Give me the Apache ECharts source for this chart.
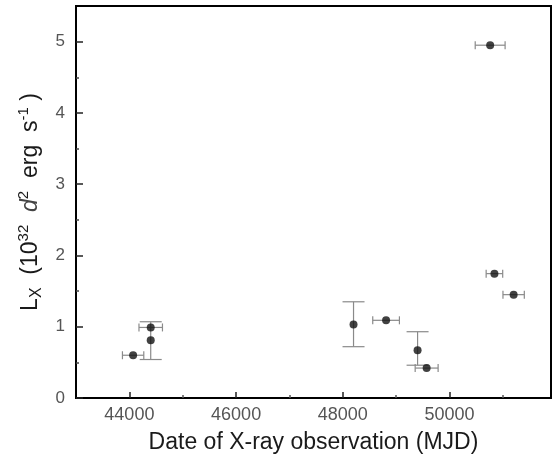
<!DOCTYPE html>
<html>
<head>
<meta charset="utf-8">
<script src="https://cdn.jsdelivr.net/npm/echarts@6/dist/echarts.min.js"></script>
<style>
  html, body { margin: 0; padding: 0; background: #fff; }
  #chart { width: 559px; height: 461px; }
</style>
</head>
<body>
<div id="chart"></div>
<script>
// observation dates (MJD) and luminosities
var mjd    = [44070, 44400, 44400, 48200, 48810, 49400, 49570, 50760, 50840, 51200];
var lx     = [0.60, 0.99, 0.81, 1.03, 1.09, 0.67, 0.42, 4.95, 1.745, 1.45];
// horizontal error (half width, days)
var mjdErr = [200, 220, 0, 0, 250, 0, 215, 280, 155, 200];
// vertical error bounds
var lxLow  = [0.60, 0.99, 0.54, 0.72, 1.09, 0.46, 0.42, 4.95, 1.745, 1.45];
var lxHigh = [0.60, 0.99, 1.07, 1.35, 1.09, 0.93, 0.42, 4.95, 1.745, 1.45];

// tick values
var xMajor = [44000, 46000, 48000, 50000];
var xMinor = [45000, 47000, 49000, 51000];
var yMajor = [0, 1, 2, 3, 4, 5];
var yMinor = [0.5, 1.5, 2.5, 3.5, 4.5];

var chart = echarts.init(document.getElementById('chart'));

var points = mjd.map(function (d, i) { return [d, lx[i]]; });
var bars = mjd.map(function (d, i) {
    return [d, lx[i], d - mjdErr[i], d + mjdErr[i], lxLow[i], lxHigh[i]];
});

var barStyle = { stroke: '#8a8a8a', lineWidth: 1.2 };

function renderErr(params, api) {
    var x = api.value(0), y = api.value(1);
    var c = api.coord([x, y]);
    var kids = [];
    var xl = api.value(2), xh = api.value(3);
    if (xh > xl) {
        var a = api.coord([xl, y]), b = api.coord([xh, y]);
        kids.push({ type: 'line', shape: { x1: a[0], y1: a[1], x2: b[0], y2: b[1] }, style: barStyle });
        kids.push({ type: 'line', shape: { x1: a[0], y1: a[1] - 4, x2: a[0], y2: a[1] + 4 }, style: barStyle });
        kids.push({ type: 'line', shape: { x1: b[0], y1: b[1] - 4, x2: b[0], y2: b[1] + 4 }, style: barStyle });
    }
    var yl = api.value(4), yh = api.value(5);
    if (yh > yl) {
        var lo = api.coord([x, yl]), hi = api.coord([x, yh]);
        kids.push({ type: 'line', shape: { x1: c[0], y1: lo[1], x2: c[0], y2: hi[1] }, style: barStyle });
        kids.push({ type: 'line', shape: { x1: c[0] - 11, y1: lo[1], x2: c[0] + 11, y2: lo[1] }, style: barStyle });
        kids.push({ type: 'line', shape: { x1: c[0] - 11, y1: hi[1], x2: c[0] + 11, y2: hi[1] }, style: barStyle });
    }
    return { type: 'group', children: kids };
}

var labelFont = 'Liberation Sans, Arial, sans-serif';

var option = {
    animation: false,
    backgroundColor: '#fff',
    grid: {
        left: 76, right: 8, top: 6, bottom: 63,
        show: true, borderColor: '#000', borderWidth: 2
    },
    xAxis: [{
        type: 'value',
        min: 43000, max: 51900,
        name: 'Date of X-ray observation (MJD)',
        nameLocation: 'middle',
        nameGap: 33,
        nameTextStyle: { fontSize: 23, color: '#1a1a1a', fontFamily: labelFont },
        axisLine: { show: true, lineStyle: { color: '#000', width: 2 } },
        axisTick: { show: true, inside: true, length: 6, customValues: xMajor, lineStyle: { color: '#222', width: 1.5 } },
        axisLabel: {
            show: true, customValues: xMajor, margin: 8, fontSize: 18, color: '#555', fontFamily: labelFont,
            formatter: function (v) { return String(v); }
        },
        splitLine: { show: false }
    }, {
        type: 'value',
        position: 'bottom',
        min: 43000, max: 51900,
        axisLine: { show: false },
        axisTick: { show: true, inside: true, length: 3, customValues: xMinor, lineStyle: { color: '#555', width: 1.5 } },
        axisLabel: { show: false },
        splitLine: { show: false }
    }],
    yAxis: [{
        type: 'value',
        min: 0, max: 5.5,
        name: '{n|L}{sub|X}{n|  (10}{sup|32}{n|  }{i|d}{sup|2}{n|  erg  s}{sup|-1}{n| )}',
        nameLocation: 'middle',
        nameRotate: 90,
        nameGap: 31,
        nameTextStyle: {
            color: '#1a1a1a', fontFamily: labelFont,
            rich: {
                n: { fontSize: 23, lineHeight: 28, color: '#1a1a1a', fontFamily: labelFont },
                sub: { fontSize: 16, lineHeight: 28, verticalAlign: 'bottom', color: '#1a1a1a', fontFamily: labelFont },
                sup: { fontSize: 15, lineHeight: 28, verticalAlign: 'top', color: '#1a1a1a', fontFamily: labelFont },
                i: { fontSize: 23, lineHeight: 28, fontStyle: 'italic', color: '#444', fontFamily: labelFont }
            }
        },
        axisLine: { show: true, lineStyle: { color: '#000', width: 2 } },
        axisTick: { show: true, inside: true, length: 7, customValues: yMajor, lineStyle: { color: '#222', width: 1.5 } },
        axisLabel: { show: true, customValues: yMajor, margin: 11, fontSize: 17, color: '#555', fontFamily: labelFont },
        splitLine: { show: false }
    }, {
        type: 'value',
        position: 'left',
        min: 0, max: 5.5,
        axisLine: { show: false },
        axisTick: { show: true, inside: true, length: 3, customValues: yMinor, lineStyle: { color: '#444', width: 1.5 } },
        axisLabel: { show: false },
        splitLine: { show: false }
    }],
    series: [{
        type: 'custom',
        renderItem: renderErr,
        data: bars,
        encode: { x: 0, y: 1 },
        z: 2
    }, {
        type: 'scatter',
        data: points,
        symbol: 'circle',
        symbolSize: 8,
        itemStyle: { color: '#111' },
        z: 3
    }]
};

chart.setOption(option);
</script>
</body>
</html>
